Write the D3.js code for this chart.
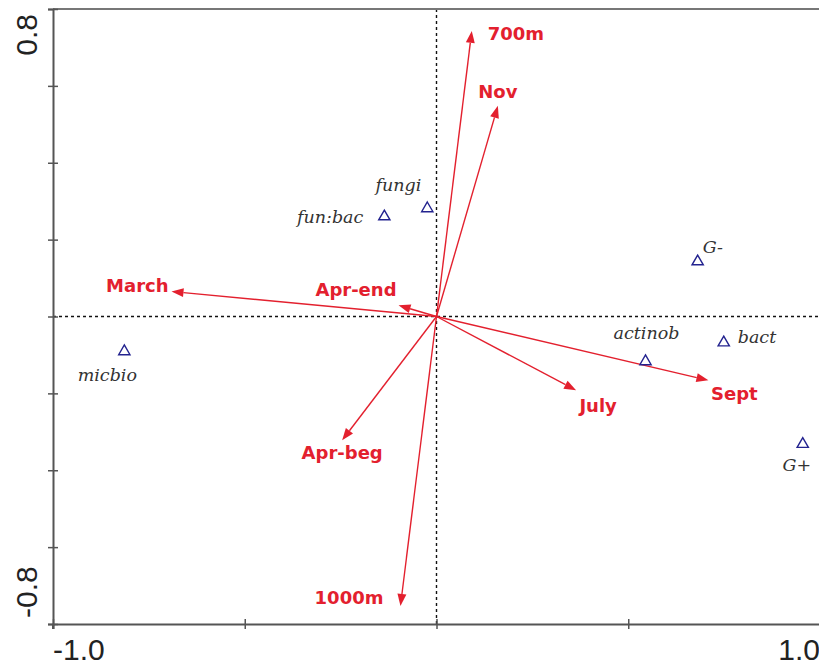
<!DOCTYPE html>
<html>
<head>
<meta charset="utf-8">
<script src="https://cdn.jsdelivr.net/npm/d3@7"></script>
<style>
  html, body { margin: 0; padding: 0; background: #fff; }
  svg { display: block; }
</style>
</head>
<body>
<svg id="chart" width="819" height="667"></svg>
<script>
// Environmental variables (arrows): name, axis 1, axis 2
const envNames = ["700m", "Nov", "March", "Apr-end", "July", "Sept", "Apr-beg", "1000m"];
const envAx1   = [0.092, 0.160, -0.691, -0.099, 0.364, 0.709, -0.246, -0.094];
const envAx2   = [0.743, 0.548, 0.065, 0.029, -0.192, -0.166, -0.322, -0.753];

// Response variables (triangles)
const spNames = ["fungi", "fun:bac", "G-", "micbio", "actinob", "bact", "G+"];
const spAx1   = [-0.024, -0.136, 0.681, -0.814, 0.545, 0.749, 0.955];
const spAx2   = [0.281, 0.260, 0.143, -0.091, -0.117, -0.068, -0.332];

// Axis ticks
const xTicks = [-1.0, -0.5, 0.0, 0.5, 1.0];
const yTicks = [-0.8, -0.6, -0.4, -0.2, 0.0, 0.2, 0.4, 0.6, 0.8];
const xTickLabels = ["-1.0", "1.0"];
const yTickLabels = ["0.8", "-0.8"];

// Label placement around each mark: [dx, dy, anchor]
const envLabelPos = {
  "700m":    [16, 9, "start"],
  "Nov":     [0, -8, "middle"],
  "March":   [-3, 0, "end"],
  "Apr-end": [-2, -9, "end"],
  "July":    [22, 22, "middle"],
  "Sept":    [26, 20, "middle"],
  "Apr-beg": [0, 19, "middle"],
  "1000m":   [-17, -2, "end"]
};
const spLabelPos = {
  "fungi":   [-6, -17, "end"],
  "fun:bac": [-21, 6, "end"],
  "G-":      [5, -9, "start"],
  "micbio":  [-17, 30, "middle"],
  "actinob": [1, -22, "middle"],
  "bact":    [14, 0, "start"],
  "G+":      [-6, 27, "middle"]
};

const svg = d3.select("#chart");
const x = d3.scaleLinear().domain([-1, 1]).range([53, 820]);
const y = d3.scaleLinear().domain([-0.8, 0.8]).range([624, 9]);

const red = "#e3202e";
const axisColor = "#555";

// zero reference lines
svg.append("line")
  .attr("x1", x(0)).attr("x2", x(0)).attr("y1", y(0.8)).attr("y2", y(-0.8))
  .attr("stroke", "#111").attr("stroke-width", 1.4).attr("stroke-dasharray", "3,3");
svg.append("line")
  .attr("x1", x(-1)).attr("x2", x(1)).attr("y1", y(0)).attr("y2", y(0))
  .attr("stroke", "#111").attr("stroke-width", 1.4).attr("stroke-dasharray", "3,3");

// frame top
svg.append("line")
  .attr("x1", x(-1)).attr("x2", x(1)).attr("y1", y(0.8)).attr("y2", y(0.8))
  .attr("stroke", "#777").attr("stroke-width", 2);

// axes
const xAxis = svg.append("g")
  .attr("transform", `translate(0,${y(-0.8)})`)
  .call(d3.axisBottom(x).tickValues(xTicks).tickSize(5).tickFormat(""));
const yAxis = svg.append("g")
  .attr("transform", `translate(${x(-1)},0)`)
  .call(d3.axisLeft(y).tickValues(yTicks).tickSize(5).tickFormat(""));

[xAxis, yAxis].forEach(g => {
  g.select(".domain").attr("stroke", axisColor).attr("stroke-width", 2);
  g.selectAll(".tick line").attr("stroke", axisColor).attr("stroke-width", 1.5);
});
xAxis.selectAll(".tick line").attr("y1", -5).attr("y2", 5);
yAxis.selectAll(".tick line").attr("x1", -5).attr("x2", 5);
// extend the vertical axis just below the bottom frame
svg.append("line")
  .attr("x1", x(-1)).attr("x2", x(-1)).attr("y1", y(-0.8)).attr("y2", y(-0.8) + 5)
  .attr("stroke", axisColor).attr("stroke-width", 2);

// tick labels at axis ends
const tickFont = "Liberation Sans, Arial, sans-serif";
svg.append("text")
  .attr("x", x(-1)).attr("y", 660)
  .attr("text-anchor", "start")
  .attr("font-family", tickFont)
  .attr("font-size", 30).attr("fill", "#222")
  .text(xTickLabels[0]);
svg.append("text")
  .attr("x", x(1)).attr("y", 660)
  .attr("text-anchor", "end")
  .attr("font-family", tickFont)
  .attr("font-size", 30).attr("fill", "#222")
  .text(xTickLabels[1]);
svg.append("text")
  .attr("transform", `translate(37,${y(0.8) + 5}) rotate(-90)`)
  .attr("text-anchor", "end")
  .attr("font-family", tickFont)
  .attr("font-size", 30).attr("fill", "#222")
  .text(yTickLabels[0]);
svg.append("text")
  .attr("transform", `translate(37,${y(-0.8) - 6}) rotate(-90)`)
  .attr("text-anchor", "start")
  .attr("font-family", tickFont)
  .attr("font-size", 30).attr("fill", "#222")
  .text(yTickLabels[1]);

// environmental arrows
const env = envNames.map((n, i) => ({ name: n, a1: envAx1[i], a2: envAx2[i] }));
const ox = x(0), oy = y(0);
const headLen = 12, headHalf = 4.5;

const arrows = svg.append("g");
env.forEach(d => {
  const tx = x(d.a1), ty = y(d.a2);
  const ang = Math.atan2(ty - oy, tx - ox);
  const bx = tx - headLen * Math.cos(ang), by = ty - headLen * Math.sin(ang);
  arrows.append("line")
    .attr("x1", ox).attr("y1", oy).attr("x2", bx).attr("y2", by)
    .attr("stroke", red).attr("stroke-width", 1.4);
  const px = -Math.sin(ang), py = Math.cos(ang);
  arrows.append("path")
    .attr("d", `M${tx},${ty}L${bx + px * headHalf},${by + py * headHalf}L${bx + px * -headHalf},${by + py * -headHalf}Z`)
    .attr("fill", red);
  const p = envLabelPos[d.name];
  arrows.append("text")
    .attr("x", tx + p[0]).attr("y", ty + p[1])
    .attr("text-anchor", p[2])
    .attr("font-family", "DejaVu Sans, Verdana, sans-serif")
    .attr("font-weight", "bold").attr("font-size", 18)
    .attr("fill", red)
    .text(d.name);
});

// response variables
const sp = spNames.map((n, i) => ({ name: n, a1: spAx1[i], a2: spAx2[i] }));
const tri = d3.symbol().type(d3.symbolTriangle).size(55);
const spG = svg.append("g");
sp.forEach(d => {
  const px = x(d.a1), py = y(d.a2);
  spG.append("path")
    .attr("d", tri())
    .attr("transform", `translate(${px},${py})`)
    .attr("fill", "none").attr("stroke", "#23238f").attr("stroke-width", 1.4);
  const p = spLabelPos[d.name];
  spG.append("text")
    .attr("x", px + p[0]).attr("y", py + p[1])
    .attr("text-anchor", p[2])
    .attr("font-family", "DejaVu Serif, serif")
    .attr("font-style", "italic").attr("font-size", 17.5)
    .attr("fill", "#333")
    .text(d.name);
});
</script>
</body>
</html>
